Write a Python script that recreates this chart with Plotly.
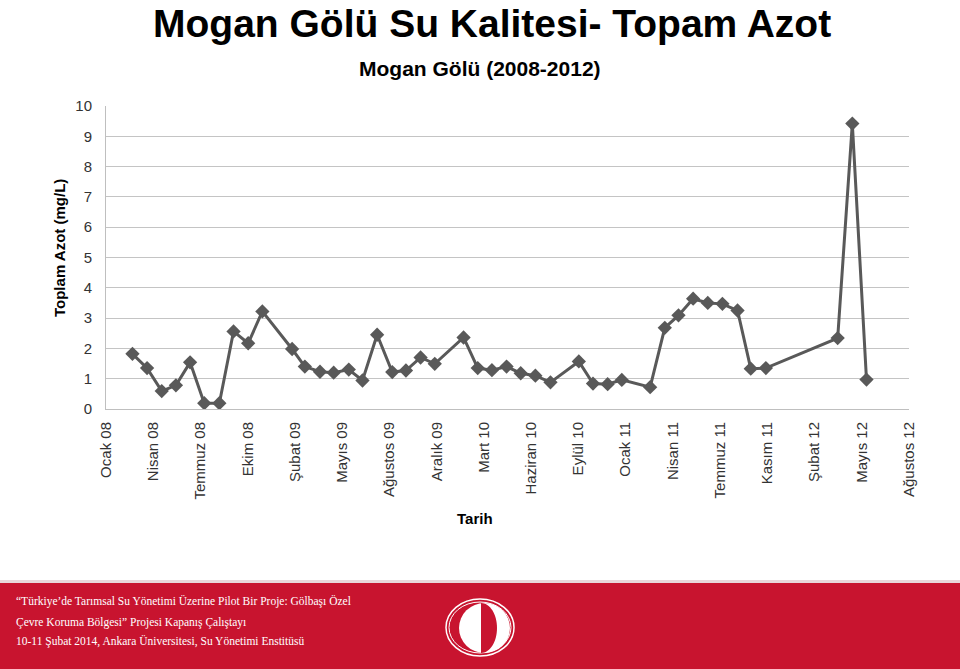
import datetime as dt
import plotly.graph_objects as go

# ---- data ----
sample_dates = [
    "2008-02-26", "2008-03-28", "2008-04-28", "2008-05-28", "2008-06-27", "2008-07-27",
    "2008-08-28", "2008-09-27", "2008-10-28", "2008-11-27",
    "2009-01-29", "2009-02-25", "2009-03-29", "2009-04-27", "2009-05-29", "2009-06-27",
    "2009-07-28", "2009-08-29", "2009-09-27", "2009-10-28", "2009-11-27",
    "2010-01-27", "2010-02-26", "2010-03-28", "2010-04-28", "2010-05-28", "2010-06-28",
    "2010-07-30", "2010-09-28", "2010-10-28", "2010-11-28", "2010-12-28",
    "2011-02-26", "2011-03-29", "2011-04-27", "2011-05-28", "2011-06-28", "2011-07-29",
    "2011-08-30", "2011-09-27", "2011-10-29",
    "2012-03-29", "2012-04-29", "2012-05-29",
]
toplam_azot = [
    1.82, 1.35, 0.59, 0.78, 1.54, 0.19, 0.19, 2.56, 2.17, 3.22,
    1.98, 1.40, 1.23, 1.20, 1.30, 0.94, 2.45, 1.22, 1.27, 1.70, 1.49,
    2.36, 1.35, 1.28, 1.40, 1.18, 1.10, 0.88, 1.57, 0.84, 0.82, 0.96,
    0.72, 2.68, 3.09, 3.64, 3.50, 3.47, 3.25, 1.33, 1.35,
    2.34, 9.42, 0.97,
]
tick_labels = [
    "Ocak 08", "Nisan 08", "Temmuz 08", "Ekim 08", "Şubat 09", "Mayıs 09",
    "Ağustos 09", "Aralık 09", "Mart 10", "Haziran 10", "Eylül 10", "Ocak 11",
    "Nisan 11", "Temmuz 11", "Kasım 11", "Şubat 12", "Mayıs 12", "Ağustos 12",
]
y_ticks = list(range(0, 11))

axis_start = dt.date(2008, 1, 1)
tick_step_days = 100
tick_vals = [(axis_start + dt.timedelta(days=tick_step_days * i)).isoformat()
             for i in range(len(tick_labels))]
axis_end = (axis_start + dt.timedelta(days=tick_step_days * (len(tick_labels) - 1))).isoformat()

W, H = 960, 669
L, R, T, B = 106, 51, 106, 260
PW, PH = W - L - R, H - T - B

def px(x):
    return (x - L) / PW

def py(y):
    return (H - B - y) / PH

FONT = "Liberation Sans, Arial, sans-serif"
LINE = "#595959"
RED = "#C8142F"

fig = go.Figure()
fig.add_trace(go.Scatter(
    x=sample_dates, y=toplam_azot, mode="lines+markers",
    line=dict(color=LINE, width=3),
    marker=dict(symbol="diamond", size=11, color=LINE),
    showlegend=False, hoverinfo="x+y",
))

shapes = []
# footer red band
shapes.append(dict(type="rect", xref="paper", yref="paper",
                   x0=px(-2), x1=px(W + 2), y0=py(583), y1=py(H + 2),
                   fillcolor=RED, line=dict(width=0), layer="above"))
shapes.append(dict(type="rect", xref="paper", yref="paper",
                   x0=px(-2), x1=px(W + 2), y0=py(580), y1=py(583),
                   fillcolor="#E9D6D9", line=dict(width=0), layer="above"))
# logo
shapes.append(dict(type="circle", xref="paper", yref="paper",
                   x0=px(446), x1=px(514), y0=py(599), y1=py(656),
                   line=dict(color="white", width=1.5), layer="above"))
shapes.append(dict(type="circle", xref="paper", yref="paper",
                   x0=px(449), x1=px(511), y0=py(602), y1=py(653),
                   line=dict(color="white", width=1), layer="above"))
shapes.append(dict(type="circle", xref="paper", yref="paper",
                   x0=px(459), x1=px(510), y0=py(603), y1=py(653),
                   fillcolor="white", line=dict(width=0), layer="above"))
cx, cy, rx, ry = 481, 628, 16, 25
k = 0.5523
pts = [
    (cx, cy - ry), (cx + k * rx, cy - ry), (cx + rx, cy - k * ry), (cx + rx, cy),
    (cx + rx, cy + k * ry), (cx + k * rx, cy + ry), (cx, cy + ry),
]
path = "M {:.5f},{:.5f} C {:.5f},{:.5f} {:.5f},{:.5f} {:.5f},{:.5f} C {:.5f},{:.5f} {:.5f},{:.5f} {:.5f},{:.5f} Z".format(
    *[v for p in pts for v in (px(p[0]), py(p[1]))])
shapes.append(dict(type="path", xref="paper", yref="paper", path=path,
                   fillcolor=RED, line=dict(width=0), layer="above"))

annotations = [
    dict(text="<b>Mogan Gölü Su Kalitesi- Topam Azot</b>", x=px(492), y=py(0),
         yanchor="top", font=dict(family=FONT, size=39, color="black")),
    dict(text="<b>Mogan Gölü (2008-2012)</b>", x=px(480), y=py(68),
         font=dict(family=FONT, size=21, color="black")),
    dict(text="<b>Toplam Azot (mg/L)</b>", x=px(59), y=py(248), textangle=-90,
         font=dict(family=FONT, size=15, color="black")),
    dict(text="<b>Tarih</b>", x=px(475), y=py(518),
         font=dict(family=FONT, size=15, color="black")),
]
footer_lines = [
    ("“Türkiye’de Tarımsal Su Yönetimi Üzerine Pilot Bir Proje: Gölbaşı Özel", 601),
    ("Çevre Koruma Bölgesi” Projesi Kapanış Çalıştayı", 622),
    ("10-11 Şubat 2014, Ankara Üniversitesi, Su Yönetimi Enstitüsü", 641),
]
for txt, yy in footer_lines:
    annotations.append(dict(text=txt, x=px(14), y=py(yy), xanchor="left",
                            font=dict(family="Liberation Serif, Times New Roman, serif",
                                      size=11.5, color="white")))
for a in annotations:
    a.update(xref="paper", yref="paper", showarrow=False)
    a.setdefault("xanchor", "center")
    a.setdefault("yanchor", "middle")

fig.update_layout(
    width=W, height=H,
    margin=dict(l=L, r=R, t=T, b=B, pad=0),
    paper_bgcolor="white", plot_bgcolor="white",
    shapes=shapes, annotations=annotations,
    xaxis=dict(type="date", range=[axis_start.isoformat(), axis_end],
               tickmode="array", tickvals=tick_vals, ticktext=tick_labels,
               tickangle=-90, showgrid=False, zeroline=False,
               showline=True, linecolor="#BFBFBF", linewidth=1,
               tickfont=dict(family=FONT, size=15, color="#333333"),
               ticks="", ticklabelstandoff=6),
    yaxis=dict(range=[0, 10], tickmode="array", tickvals=y_ticks,
               showgrid=True, gridcolor="#C4C4C4", gridwidth=1,
               zeroline=False, showline=True, linecolor="#BFBFBF", linewidth=1,
               tickfont=dict(family=FONT, size=15, color="#333333"),
               ticks="", ticklabelstandoff=10),
)

fig.write_html("out.html", config={"displayModeBar": False},
               post_script="document.body.style.margin='0';document.body.style.overflow='hidden';")
